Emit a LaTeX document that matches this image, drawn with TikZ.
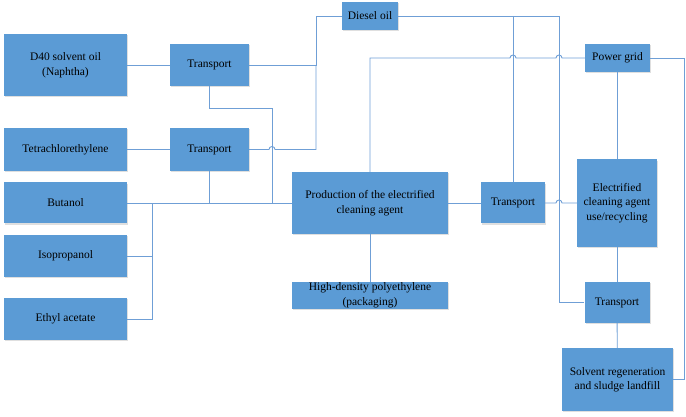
\documentclass[tikz,border=0pt]{standalone}
\usepackage{fontspec}
\setmainfont{Liberation Serif}
\usetikzlibrary{shadows}
\definecolor{boxblue}{HTML}{5B9BD5}
\definecolor{linkblue}{HTML}{6F9FD6}
\begin{document}
\begin{tikzpicture}[x=1pt,y=-1pt,
  box/.style={draw=none,fill=boxblue,inner sep=0pt,align=center,
    font=\fontsize{11.5}{14.5}\selectfont,
    drop shadow={opacity=0.25,shadow xshift=1.2pt,shadow yshift=-1.2pt}},
  link/.style={draw=linkblue,line width=0.9pt},
  hop/.style={}]
\useasboundingbox (0,0) rectangle (686,417);
% nodes
\node[box,minimum width=123pt,minimum height=62pt] (d40) at (65.5,65) {D40 solvent oil\\(Naphtha)};
\node[box,minimum width=79pt,minimum height=42pt] (t1) at (209.5,65) {Transport};
\node[box,minimum width=56pt,minimum height=28pt] (diesel) at (370,16) {Diesel oil};
\node[box,minimum width=65pt,minimum height=28pt] (pg) at (617.5,58) {Power grid};
\node[box,minimum width=123pt,minimum height=43pt] (tet) at (65.5,149.5) {Tetrachlorethylene};
\node[box,minimum width=79pt,minimum height=43pt] (t2) at (209.5,149.5) {Transport};
\node[box,minimum width=123pt,minimum height=41pt] (but) at (65.5,203) {Butanol};
\node[box,minimum width=123pt,minimum height=42pt] (iso) at (65.5,256) {Isopropanol};
\node[box,minimum width=123pt,minimum height=42pt] (eth) at (65.5,319) {Ethyl acetate};
\node[box,minimum width=156pt,minimum height=62pt] (prod) at (370,203) {Production of the electrified\\cleaning agent};
\node[box,minimum width=156pt,minimum height=27pt] (hdpe) at (370,295.5) {High-density polyethylene\\(packaging)};
\node[box,minimum width=64pt,minimum height=41pt] (t3) at (513,203) {Transport};
\node[box,minimum width=80pt,minimum height=87pt] (el) at (617,203) {Electrified\\cleaning agent\\use/recycling};
\node[box,minimum width=65pt,minimum height=41pt] (t4) at (617,302.5) {Transport};
\node[box,minimum width=111pt,minimum height=63pt] (solv) at (617.5,379.5) {Solvent regeneration\\and sludge landfill};
% junction coordinates
\coordinate (j1) at (316,65);
\coordinate (j2) at (316,149.5);
\coordinate (k1) at (272,108);
\coordinate (k2) at (272,203);
\coordinate (b1) at (152,203);
\coordinate (b2) at (152,256);
\coordinate (b3) at (152,319);
\coordinate (p1) at (370,58);
\coordinate (d1) at (513,16);
\coordinate (d2) at (559,16);
\coordinate (d3) at (559,302.5);
\coordinate (r1) at (684,58);
\coordinate (r2) at (684,379.5);
% connectors
\draw[link] (d40) -- (t1);
\draw[link] (t1.east) -- (j1) |- (diesel.west);
\draw[link] (j1) -- (j2) -- (275,149.5) arc[start angle=0,end angle=180,radius=3pt] -- (t2.east);
\draw[link] (t1.south) |- (k1) -- (k2);
\draw[link] (tet) -- (t2);
\draw[link] (t2.south) -- (t2.south |- k2);
\draw[link] (but.east) -- (prod.west);
\draw[link] (eth.east) -- (b3) -- (b1);
\draw[link] (iso.east) -- (b2);
\draw[link] (prod) -- (hdpe);
\draw[link] (prod.north) -- (p1) -- (510,58) arc[start angle=180,end angle=0,radius=3pt]
   -- (556,58) arc[start angle=180,end angle=0,radius=3pt] -- (pg.west);
\draw[link] (diesel.east) -- (d2) -- (d3) -- (t4.west);
\draw[link] (d1) -- (t3.north);
\draw[link] (prod) -- (t3);
\draw[link] (t3.east) -- (556,203) arc[start angle=180,end angle=0,radius=3pt] -- (el.west);
\draw[link] (pg.south) -- (pg.south |- el.north);
\draw[link] (el) -- (t4);
\draw[link] (t4) -- (solv);
\draw[link] (pg.east) -- (r1) -- (r2) -- (solv.east);
\end{tikzpicture}
\end{document}
